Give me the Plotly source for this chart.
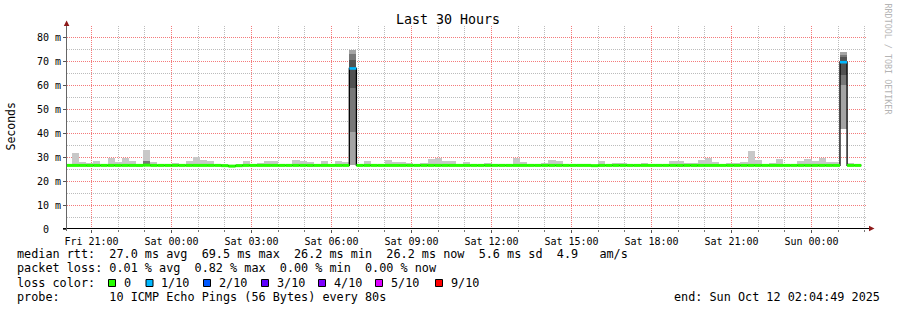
import plotly.graph_objects as go
from datetime import datetime, timedelta

# ---------------- data ----------------
RANGE_START = "2025-10-10 20:04:49"
RANGE_END = "2025-10-12 02:04:49"
FIRST_BIN = datetime(2025, 10, 10, 20, 0, 0)
BIN_MINUTES = 16

median_ms = [
    26.5, 26.5, 26.5, 26.5, 26.5, 26.5, 26.5, 26.5, 26.5, 26.5, 26.5, 26.6, 26.5, 26.5, 26.5, 26.5,
    26.5, 26.5, 26.5, 26.5, 26.5, 26.5, 26.4, 26.2, 26.4, 26.5, 26.5, 26.5, 26.5, 26.5, 26.5, 26.5,
    26.5, 26.5, 26.5, 26.5, 26.5, 26.5, 26.5, 26.5, 66.9, 26.5, 26.5, 26.5, 26.5, 26.5, 26.5, 26.5,
    26.5, 26.5, 26.5, 26.5, 26.5, 26.5, 26.5, 26.5, 26.5, 26.5, 26.5, 26.5, 26.5, 26.5, 26.5, 26.5,
    26.5, 26.5, 26.5, 26.5, 26.5, 26.5, 26.5, 26.5, 26.5, 26.5, 26.4, 26.5, 26.5, 26.5, 26.5, 26.5,
    26.5, 26.5, 26.5, 26.5, 26.5, 26.5, 26.5, 26.5, 26.5, 26.5, 26.5, 26.5, 26.5, 26.5, 26.5, 26.5,
    26.5, 26.5, 26.5, 26.5, 26.5, 26.5, 26.5, 26.5, 26.5, 26.5, 26.5, 26.5, 26.5, 69.5, 26.5, 26.5,
]

smoke_max_ms = [
    None, 31.8, 27.9, 27.4, 28.3, None, 29.6, 28.0, 29.6, 28.3, 26.9, 32.9, 28.0, None, None, 27.5,
    None, 28.3, 30.0, 28.7, 28.3, None, 26.9, None, 27.0, 28.3, 27.0, 27.5, 28.3, 28.3, None, None,
    28.75, 28.3, 27.9, 27.0, 28.3, None, 28.3, 27.9, 74.6, None, 28.3, None, None, 28.75, 27.9, 27.9,
    27.5, None, 27.5, 29.2, 29.6, 28.3, 28.3, None, 27.9, None, None, 27.5, None, None, None, 29.6,
    27.9, None, None, 27.5, 28.75, 28.3, None, None, None, None, 26.6, 28.3, None, 27.5, 27.5, None,
    None, 27.5, None, None, None, 28.3, 28.3, 27.5, 27.5, 28.75, 29.6, 27.9, None, 27.5, 27.5, 27.9,
    32.5, 28.75, None, 27.5, 29.2, None, None, 28.3, 29.2, 28.3, 29.6, 27.9, 27.9, 73.6, 27.5, None,
]

smoke_min_ms = [
    None, 26.4, 26.4, 25.9, 26.4, None, 26.4, 26.4, 26.4, 26.4, 25.9, 26.4, 26.4, None, None, 26.4,
    None, 26.4, 26.4, 26.4, 26.4, None, 25.9, None, 26.4, 26.4, 26.4, 26.4, 26.4, 26.4, None, None,
    26.4, 26.4, 25.9, 26.4, 26.4, None, 26.4, 26.4, 26.7, None, 26.4, None, None, 26.4, 26.4, 26.4,
    26.4, None, 26.4, 26.4, 26.4, 26.4, 26.4, None, 26.4, None, None, 26.4, None, None, None, 26.4,
    26.4, None, None, 26.4, 26.4, 26.4, None, None, None, None, 25.9, 26.4, None, 26.4, 26.4, None,
    None, 26.4, None, None, None, 26.4, 25.9, 26.4, 25.9, 26.4, 26.4, 26.4, None, 26.4, 26.4, 26.4,
    26.4, 26.4, None, 26.4, 26.4, None, None, 26.4, 26.4, 26.4, 26.4, 26.4, 26.4, 41.5, 26.4, None,
]

loss_tenths = [
    0, 0, 0, 0, 0, 0, 0, 0, 0, 0, 0, 0, 0, 0, 0, 0,
    0, 0, 0, 0, 0, 0, 0, 0, 0, 0, 0, 0, 0, 0, 0, 0,
    0, 0, 0, 0, 0, 0, 0, 0, 1, 0, 0, 0, 0, 0, 0, 0,
    0, 0, 0, 0, 0, 0, 0, 0, 0, 0, 0, 0, 0, 0, 0, 0,
    0, 0, 0, 0, 0, 0, 0, 0, 0, 0, 0, 0, 0, 0, 0, 0,
    0, 0, 0, 0, 0, 0, 0, 0, 0, 0, 0, 0, 0, 0, 0, 0,
    0, 0, 0, 0, 0, 0, 0, 0, 0, 0, 0, 0, 0, 1, 0, 0,
]

# inner (darker) smoke bands
band_bin = [11, 40, 40, 40, 109, 109, 109]
band_level = [3, 2, 3, 4, 2, 3, 4]
band_lo_ms = [27.0, 26.7, 40.5, 58.6, 41.5, 60.0, 64.0]
band_hi_ms = [28.5, 74.6, 72.9, 70.4, 73.6, 72.5, 71.5]

y_tick_values = [0, 10, 20, 30, 40, 50, 60, 70, 80]
y_tick_labels = ["0\u00a0\u00a0", "10 m", "20 m", "30 m", "40 m", "50 m", "60 m", "70 m", "80 m"]

loss_legend_keys = [0, 1, 2, 3, 4, 5, 9]
loss_legend_labels = ["0", "1/10", "2/10", "3/10", "4/10", "5/10", "9/10"]

legend_line1 = "median rtt:  27.0 ms avg  69.5 ms max  26.2 ms min  26.2 ms now  5.6 ms sd  4.9   am/s"
legend_line2 = "packet loss: 0.01 % avg  0.82 % max  0.00 % min  0.00 % now"
legend_line3 = "loss color:"
legend_line4 = "probe:       10 ICMP Echo Pings (56 Bytes) every 80s"
end_text = "end: Sun Oct 12 02:04:49 2025"
title_text = "Last 30 Hours"
y_title = "Seconds"
watermark = "RRDTOOL / TOBI OETIKER"

# ---------------- style ----------------
MONO = "DejaVu Sans Mono"
LOSS_COLORS = {0: "#26ff00", 1: "#00b8ff", 2: "#0059ff", 3: "#5e00ff",
               4: "#7e00ff", 5: "#dd00ff", 9: "#ff0000"}
LEVEL_COLORS = {1: "#c8c8c8", 2: "#a4a4a4", 3: "#787878", 4: "#525252"}
MAJOR_GRID = "#f47a7a"
MINOR_GRID = "#bcbcbc"
ARROW = "#8e1a1a"
DASH = "1px,1px"

L, R, T, B = 67, 30, 26, 81
W, H = 897, 310
PW, PH = W - L - R, H - T - B
Y_TOP = (H - B - T) / 2.4

# minor grid positions (hours not on the 3-hour majors, 5 ms steps not on 10 ms majors)
GRID_T0 = datetime(2025, 10, 10, 21, 0, 0)
minor_x_vals = [GRID_T0 + timedelta(hours=h) for h in range(-1, 30) if h % 3 != 0]
minor_y_vals = list(range(5, 85, 10))


def px(xp):
    return (xp - L) / PW


def py(yp):
    return (H - B - yp) / PH


def nb(s):
    return s.replace(" ", "\u00a0")


bin_w = timedelta(minutes=BIN_MINUTES)
starts = [FIRST_BIN + i * bin_w for i in range(len(median_ms))]
centers = [s + bin_w / 2 for s in starts]
width_ms = BIN_MINUTES * 60 * 1000

fig = go.Figure()

# outer smoke
idx = [i for i, v in enumerate(smoke_max_ms) if v is not None]
fig.add_trace(go.Bar(
    x=[centers[i] for i in idx],
    y=[smoke_max_ms[i] - smoke_min_ms[i] for i in idx],
    base=[smoke_min_ms[i] for i in idx],
    width=width_ms, marker=dict(color=LEVEL_COLORS[1], line=dict(width=0)),
    hoverinfo="skip"))

# inner bands
for lvl in sorted(set(band_level)):
    sel = [k for k, l in enumerate(band_level) if l == lvl]
    fig.add_trace(go.Bar(
        x=[centers[band_bin[k]] for k in sel],
        y=[band_hi_ms[k] - band_lo_ms[k] for k in sel],
        base=[band_lo_ms[k] for k in sel],
        width=width_ms, marker=dict(color=LEVEL_COLORS[lvl], line=dict(width=0)),
        hoverinfo="skip"))

# black median step line
fig.add_trace(go.Scatter(
    x=starts + [starts[-1] + bin_w], y=median_ms + [median_ms[-1]],
    mode="lines", line=dict(color="#000000", width=1.3, shape="hv"), hoverinfo="skip"))

# coloured median segments by loss
for key in sorted(set(loss_tenths)):
    xs, ys = [], []
    for i, (m, l) in enumerate(zip(median_ms, loss_tenths)):
        if l == key:
            xs += [starts[i], starts[i] + bin_w, None]
            ys += [m, m, None]
    fig.add_trace(go.Scatter(x=xs, y=ys, mode="lines",
                             line=dict(color=LOSS_COLORS[key], width=3 if key == 0 else 2.6),
                             hoverinfo="skip"))

# empty trace that activates the overlay axes carrying the red major grid + labels
fig.add_trace(go.Scatter(x=[], y=[], xaxis="x2", yaxis="y2", hoverinfo="skip"))

shapes = []
# axes
shapes.append(dict(type="line", xref="paper", yref="paper", x0=px(63), x1=px(869),
                   y0=py(228.5), y1=py(228.5), line=dict(color="#000000", width=1)))
shapes.append(dict(type="line", xref="paper", yref="paper", x0=px(66.5), x1=px(66.5),
                   y0=py(231), y1=py(25), line=dict(color="#666666", width=1)))
shapes.append(dict(type="path", xref="paper", yref="paper",
                   path=f"M {px(63.8)} {py(26)} L {px(69.4)} {py(26)} L {px(66.6)} {py(20.5)} Z",
                   fillcolor=ARROW, line=dict(width=0)))
shapes.append(dict(type="path", xref="paper", yref="paper",
                   path=f"M {px(869)} {py(225.8)} L {px(869)} {py(231.2)} L {px(874.5)} {py(228.5)} Z",
                   fillcolor=ARROW, line=dict(width=0)))

# loss colour legend boxes
box_x = [108.5, 146, 203.5, 261.5, 318.5, 375.5, 435.5]
label_x = [122.5, 160, 217.5, 276, 333, 390, 450]
for bx, key in zip(box_x, loss_legend_keys):
    shapes.append(dict(type="rect", xref="paper", yref="paper",
                       x0=px(bx), x1=px(bx + 7), y0=py(286.5), y1=py(279.5),
                       fillcolor=LOSS_COLORS[key], line=dict(color="#000000", width=1)))

ann = []
legend_font = dict(family=MONO, size=11.8, color="#000000")


def text_at(x, y, s, anchor="left", font=None, angle=0):
    ann.append(dict(xref="paper", yref="paper", x=px(x), y=py(y), text=nb(s),
                    showarrow=False, xanchor=anchor, yanchor="middle",
                    font=font or legend_font, textangle=angle, borderpad=0))


text_at(448, 19.5, title_text, "center", dict(family=MONO, size=13.3, color="#000000"))
text_at(887.5, 59, watermark, "center", dict(family=MONO, size=8.4, color="#b4b4b4"), 90)
text_at(10.5, 127, y_title, "center", dict(family=MONO, size=11.5, color="#000000"), -90)
text_at(15.5, 254, legend_line1)
text_at(15.5, 268, legend_line2)
text_at(15.5, 282.5, legend_line3)
text_at(15.5, 296.5, legend_line4)
for lx, lab in zip(label_x, loss_legend_labels):
    text_at(lx, 282.5, lab)
text_at(881, 296.5, end_text, "right")

tick_font = dict(family=MONO, size=10, color="#000000")

fig.update_layout(
    width=W, height=H, margin=dict(l=L, r=R, t=T, b=B, pad=0),
    paper_bgcolor="#ffffff", plot_bgcolor="#ffffff",
    showlegend=False, barmode="overlay", bargap=0,
    shapes=shapes, annotations=ann,
    # base axes: grey minor grid (hourly / 5 ms, skipping majors)
    xaxis=dict(type="date", range=[RANGE_START, RANGE_END],
               tickmode="array", tickvals=minor_x_vals,
               showgrid=True, gridcolor=MINOR_GRID, griddash=DASH, gridwidth=1,
               ticks="outside", ticklen=2, tickcolor="#777777",
               showticklabels=False, showline=False, zeroline=False, fixedrange=True),
    yaxis=dict(range=[0, Y_TOP], tickmode="array", tickvals=minor_y_vals,
               showgrid=True, gridcolor=MINOR_GRID, griddash=DASH, gridwidth=1,
               ticks="", showticklabels=False, showline=False, zeroline=False, fixedrange=True),
    # overlay axes: 3 h / 10 ms red grid with labels
    xaxis2=dict(type="date", range=[RANGE_START, RANGE_END], overlaying="x", anchor="y2",
                side="bottom", tick0="2025-10-10 21:00:00", dtick=3 * 3600000,
                tickformat="%a %H:%M",
                showgrid=True, gridcolor=MAJOR_GRID, griddash=DASH, gridwidth=1,
                ticks="outside", ticklen=3, tickcolor="#555555", tickfont=tick_font,
                showline=False, zeroline=False, fixedrange=True),
    yaxis2=dict(range=[0, Y_TOP], overlaying="y", anchor="x2", side="left",
                tickvals=y_tick_values, ticktext=y_tick_labels,
                showgrid=True, gridcolor=MAJOR_GRID, griddash=DASH, gridwidth=1,
                ticks="outside", ticklen=3, tickcolor="#555555", tickfont=tick_font,
                showline=False, zeroline=False, fixedrange=True),
)

fig.write_html("out.html")
